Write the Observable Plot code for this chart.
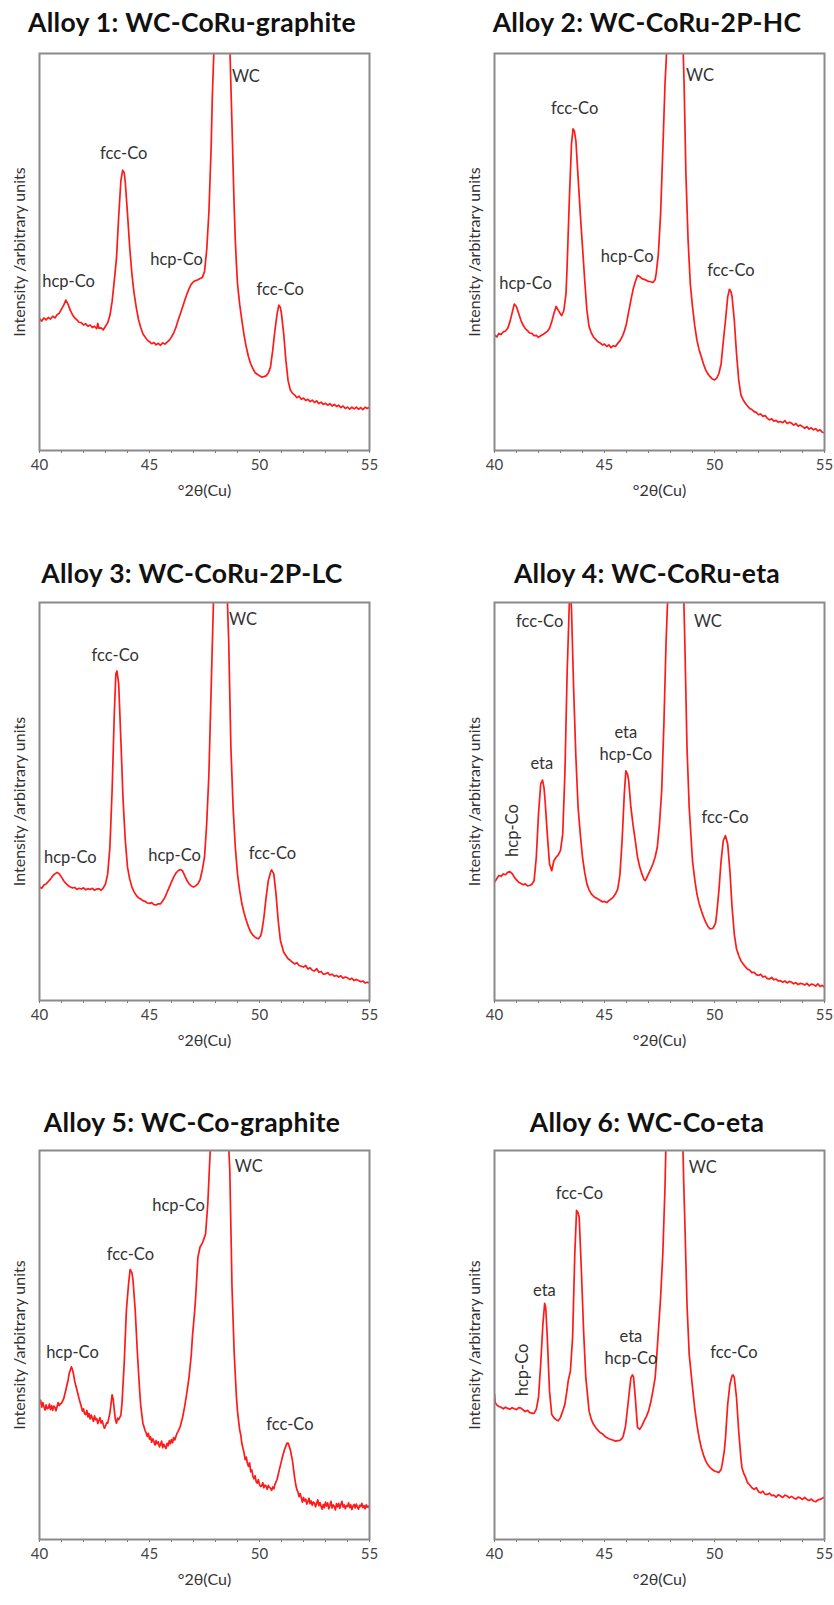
<!DOCTYPE html>
<html>
<head>
<meta charset="utf-8">
<script src="https://cdn.jsdelivr.net/npm/d3@7"></script>
<script src="https://cdn.jsdelivr.net/npm/@observablehq/plot@0.6"></script>
<style>
  body { margin: 0; background: #fff; }
  #page { position: relative; width: 834px; height: 1605px; overflow: hidden; background: #fff; }
  .title { position: absolute; width: 440px; text-align: center; white-space: nowrap;
           font: 700 26.5px Lato, sans-serif; letter-spacing: 0.3px; line-height: 26px; color: #111; }
  .panel { position: absolute; }
</style>
</head>
<body>
<div id="page"></div>
<script>
// XRD patterns (Cu Kα) of six WC-based hardmetals, 2θ = 40–55°, intensity in arbitrary units
const titles = [
  "Alloy 1: WC-CoRu-graphite",
  "Alloy 2: WC-CoRu-2P-HC",
  "Alloy 3: WC-CoRu-2P-LC",
  "Alloy 4: WC-CoRu-eta",
  "Alloy 5: WC-Co-graphite",
  "Alloy 6: WC-Co-eta"
];
const xTitle = "°2θ(Cu)";
const yTitle = "Intensity /arbitrary units";
const xTicks = [40, 41, 42, 43, 44, 45, 46, 47, 48, 49, 50, 51, 52, 53, 54, 55];
const xTickLabels = [40, 45, 50, 55];

// [2θ, intensity]; the WC reflection runs off the top of every pattern
const alloy1 = [[40.0,33.2],[40.1,32.6],[40.2,33.4],[40.3,32.9],[40.4,33.5],[40.5,33.1],[40.6,33.8],[40.7,33.4],[40.8,34.2],[40.9,34.6],[41.0,35.6],[41.1,36.6],[41.2,37.9],[41.3,36.8],[41.4,35.3],[41.5,34.2],[41.6,33.4],[41.7,32.9],[41.8,32.3],[41.9,32.2],[42.0,31.6],[42.1,31.9],[42.2,31.3],[42.3,31.6],[42.4,31.0],[42.5,31.3],[42.6,30.7],[42.65,32.0],[42.7,30.8],[42.8,30.9],[42.9,30.4],[43.0,31.3],[43.1,32.2],[43.2,34.0],[43.3,37.5],[43.4,42.8],[43.5,48.5],[43.6,59.0],[43.7,68.0],[43.78,70.6],[43.85,70.0],[43.9,67.5],[44.0,59.6],[44.1,51.2],[44.2,44.5],[44.3,39.6],[44.4,36.0],[44.5,33.0],[44.6,31.0],[44.7,29.4],[44.8,28.6],[44.9,27.8],[45.0,27.4],[45.1,26.9],[45.2,27.2],[45.3,26.6],[45.4,27.0],[45.5,26.5],[45.6,27.1],[45.7,26.8],[45.8,27.3],[45.9,27.8],[46.0,28.6],[46.1,29.6],[46.2,31.0],[46.3,32.8],[46.4,34.4],[46.5,36.1],[46.6,37.8],[46.7,39.4],[46.8,40.8],[46.9,41.9],[47.0,42.5],[47.1,42.8],[47.2,43.0],[47.3,43.3],[47.4,43.6],[47.5,45.0],[47.6,50.5],[47.7,60.0],[47.8,76.0],[47.86,90.0],[47.93,101],[48.0,130],[48.3,200],[48.6,130],[48.66,100],[48.7,92],[48.75,82],[48.8,71.3],[48.85,61],[48.9,53.0],[48.95,47],[49.0,42.0],[49.1,36.8],[49.2,32.7],[49.3,29.0],[49.4,26.0],[49.5,23.6],[49.6,21.8],[49.7,20.6],[49.8,19.6],[49.9,19.2],[50.0,18.8],[50.1,18.5],[50.2,18.6],[50.3,18.8],[50.4,19.5],[50.5,21.0],[50.6,25.2],[50.7,30.2],[50.8,34.4],[50.88,36.6],[50.95,36.0],[51.0,34.4],[51.1,29.4],[51.2,22.7],[51.3,17.6],[51.4,15.3],[51.5,14.4],[51.6,14.0],[51.7,13.3],[51.8,13.7],[51.9,12.9],[52.0,13.2],[52.1,12.6],[52.2,12.9],[52.3,12.3],[52.4,12.7],[52.5,12.1],[52.6,12.5],[52.7,11.8],[52.8,12.2],[52.9,11.6],[53.0,11.9],[53.1,11.4],[53.2,11.8],[53.3,11.2],[53.4,11.6],[53.5,11.1],[53.6,11.4],[53.7,10.8],[53.8,11.2],[53.9,10.6],[54.0,10.9],[54.1,10.4],[54.2,10.9],[54.3,10.5],[54.4,10.9],[54.5,10.4],[54.6,10.8],[54.7,10.3],[54.8,10.9],[54.9,10.6],[55.0,10.9]];

const alloy2 = [[40.0,29.1],[40.1,28.6],[40.2,29.5],[40.3,29.2],[40.4,29.9],[40.5,30.1],[40.6,30.8],[40.7,32.4],[40.8,34.6],[40.9,36.9],[41.0,36.2],[41.1,34.5],[41.2,32.8],[41.3,31.6],[41.4,30.7],[41.5,30.2],[41.6,29.6],[41.7,29.5],[41.8,28.9],[41.9,29.0],[42.0,28.5],[42.1,28.9],[42.2,29.2],[42.3,29.6],[42.4,30.0],[42.5,30.8],[42.6,32.4],[42.7,34.5],[42.8,36.3],[42.9,35.3],[43.0,34.4],[43.05,34.0],[43.15,35.2],[43.25,39.5],[43.3,46.2],[43.4,63.0],[43.5,77.2],[43.57,81.0],[43.63,80.5],[43.7,78.0],[43.8,68.8],[43.9,59.6],[44.0,51.3],[44.1,42.9],[44.2,35.3],[44.3,31.2],[44.4,29.6],[44.5,28.6],[44.6,28.0],[44.7,27.4],[44.8,27.1],[44.9,26.6],[45.0,26.8],[45.1,26.2],[45.2,26.6],[45.3,25.9],[45.4,26.4],[45.5,26.2],[45.6,27.0],[45.7,27.6],[45.8,28.6],[45.9,30.0],[46.0,32.0],[46.1,35.0],[46.2,37.9],[46.3,40.6],[46.4,42.5],[46.5,44.1],[46.6,43.8],[46.7,43.3],[46.8,43.1],[46.9,42.9],[47.0,42.6],[47.1,42.5],[47.2,42.3],[47.3,43.0],[47.35,44.6],[47.45,49.6],[47.55,59.6],[47.65,75.5],[47.75,92.3],[47.83,101],[47.9,130],[48.2,200],[48.5,130],[48.58,100],[48.62,92],[48.7,69.7],[48.8,52.9],[48.9,42.0],[49.0,36.2],[49.1,31.5],[49.2,27.8],[49.3,25.4],[49.4,23.6],[49.5,21.8],[49.6,20.3],[49.7,19.3],[49.8,18.6],[49.9,18.0],[50.0,17.8],[50.1,18.2],[50.2,19.4],[50.3,21.8],[50.4,27.5],[50.5,32.8],[50.6,38.7],[50.68,40.6],[50.75,40.0],[50.8,38.7],[50.9,32.8],[51.0,24.5],[51.1,17.8],[51.2,14.0],[51.3,12.8],[51.4,11.9],[51.5,11.2],[51.6,10.6],[51.7,10.3],[51.8,9.8],[51.9,9.6],[52.0,9.0],[52.1,9.2],[52.2,8.6],[52.3,8.8],[52.4,8.1],[52.5,7.7],[52.6,8.0],[52.7,7.4],[52.8,7.6],[52.9,7.1],[53.0,7.3],[53.1,7.0],[53.2,7.5],[53.3,6.8],[53.4,7.1],[53.5,6.9],[53.6,6.4],[53.7,6.8],[53.8,6.1],[53.9,6.4],[54.0,6.0],[54.1,5.6],[54.2,6.0],[54.3,5.4],[54.4,5.7],[54.5,5.2],[54.6,5.5],[54.7,4.9],[54.8,5.2],[54.9,4.6],[55.0,4.5]];

const alloy3 = [[40.0,28.5],[40.1,28.2],[40.2,29.0],[40.3,29.3],[40.4,29.9],[40.5,30.5],[40.6,31.3],[40.7,31.8],[40.8,32.2],[40.9,31.8],[41.0,31.0],[41.1,30.1],[41.2,29.4],[41.3,28.9],[41.4,28.5],[41.5,28.3],[41.6,28.4],[41.7,27.9],[41.8,28.2],[41.9,28.0],[42.0,28.3],[42.1,27.8],[42.2,28.1],[42.3,27.9],[42.4,28.2],[42.5,27.7],[42.6,28.0],[42.7,28.1],[42.8,27.7],[42.9,28.3],[43.0,29.3],[43.1,31.8],[43.2,38.5],[43.3,52.7],[43.4,72.0],[43.47,82.0],[43.52,82.8],[43.6,79.5],[43.7,65.3],[43.8,50.2],[43.9,40.2],[44.0,33.5],[44.1,30.5],[44.2,28.5],[44.3,27.3],[44.4,26.4],[44.5,25.8],[44.6,25.5],[44.7,25.1],[44.8,24.9],[44.9,24.5],[45.0,24.4],[45.1,24.6],[45.2,24.1],[45.3,24.0],[45.4,24.3],[45.5,24.3],[45.6,25.0],[45.7,25.9],[45.8,27.2],[45.9,28.5],[46.0,29.8],[46.1,31.0],[46.2,32.0],[46.3,32.6],[46.4,32.9],[46.5,32.6],[46.6,31.4],[46.7,30.2],[46.8,29.3],[46.9,28.8],[47.0,28.5],[47.1,28.8],[47.2,29.3],[47.3,30.4],[47.4,32.8],[47.5,36.0],[47.6,44.4],[47.7,56.9],[47.8,77.8],[47.9,98.7],[47.96,110],[48.1,150],[48.3,200],[48.45,150],[48.52,104],[48.6,90.4],[48.7,63.6],[48.8,48.5],[48.9,38.5],[49.0,31.8],[49.1,27.6],[49.2,24.3],[49.3,22.0],[49.4,20.1],[49.5,18.5],[49.6,17.2],[49.7,16.4],[49.8,15.9],[49.9,15.6],[49.95,15.5],[50.05,16.2],[50.1,17.2],[50.2,20.9],[50.3,25.9],[50.4,30.1],[50.5,32.2],[50.55,32.8],[50.65,31.8],[50.75,26.8],[50.85,20.1],[50.95,15.1],[51.1,12.1],[51.2,11.3],[51.3,10.5],[51.4,10.1],[51.5,9.6],[51.6,9.2],[51.7,9.5],[51.8,8.8],[51.9,8.6],[52.0,8.4],[52.1,8.8],[52.2,7.9],[52.3,8.2],[52.4,7.6],[52.5,7.4],[52.6,8.0],[52.7,7.1],[52.8,7.3],[52.9,6.6],[53.0,6.7],[53.1,7.0],[53.2,6.4],[53.3,6.6],[53.4,6.1],[53.5,6.3],[53.6,5.9],[53.7,6.2],[53.8,5.6],[53.9,5.9],[54.0,5.7],[54.1,5.3],[54.2,5.6],[54.3,5.0],[54.4,5.3],[54.5,5.0],[54.6,4.7],[54.7,4.9],[54.8,4.4],[54.9,4.6],[55.0,4.4]];

const alloy4 = [[40.0,29.7],[40.1,30.6],[40.2,31.4],[40.3,31.2],[40.4,31.8],[40.5,31.6],[40.6,32.2],[40.7,32.4],[40.8,31.9],[40.9,31.0],[41.0,30.3],[41.1,29.7],[41.2,29.4],[41.3,29.1],[41.4,29.3],[41.5,28.8],[41.6,28.9],[41.7,29.2],[41.8,30.1],[41.9,36.0],[42.0,46.9],[42.1,54.4],[42.18,55.4],[42.25,53.5],[42.3,50.2],[42.4,41.8],[42.5,34.3],[42.6,32.6],[42.7,35.1],[42.8,36.0],[42.9,36.6],[43.0,37.7],[43.1,41.8],[43.2,56.9],[43.3,82.0],[43.4,99.6],[43.45,104],[43.5,98.3],[43.6,77.8],[43.7,61.1],[43.8,48.5],[43.9,41.8],[44.0,36.0],[44.1,32.2],[44.2,29.3],[44.3,27.8],[44.4,26.8],[44.5,26.2],[44.6,25.8],[44.7,25.5],[44.8,25.2],[44.9,24.8],[45.0,24.9],[45.1,24.6],[45.2,25.1],[45.3,25.5],[45.4,26.0],[45.5,26.8],[45.6,28.0],[45.7,31.5],[45.8,40.2],[45.9,51.9],[45.97,57.7],[46.05,56.8],[46.1,55.2],[46.2,48.5],[46.3,44.0],[46.4,40.2],[46.5,36.0],[46.6,33.6],[46.7,31.8],[46.8,30.4],[46.85,30.1],[46.9,30.6],[47.0,31.8],[47.1,33.0],[47.2,34.3],[47.3,36.0],[47.4,38.5],[47.5,44.4],[47.6,52.7],[47.7,69.5],[47.8,90.4],[47.88,102],[48.0,140],[48.3,200],[48.55,140],[48.6,102],[48.65,90.4],[48.75,63.6],[48.85,48.5],[49.0,35.1],[49.1,30.5],[49.2,26.8],[49.3,24.4],[49.4,22.6],[49.5,21.0],[49.6,19.7],[49.7,18.6],[49.8,18.0],[49.9,18.1],[49.95,18.3],[50.05,19.5],[50.1,21.8],[50.2,27.6],[50.3,35.1],[50.4,40.2],[50.5,41.4],[50.6,39.3],[50.7,32.6],[50.8,23.4],[50.9,16.7],[51.0,13.0],[51.1,11.3],[51.2,10.0],[51.3,9.2],[51.4,8.5],[51.5,7.9],[51.6,7.6],[51.7,7.0],[51.8,7.1],[51.9,6.5],[52.0,6.3],[52.1,6.6],[52.2,5.9],[52.3,6.1],[52.4,5.5],[52.5,5.4],[52.6,5.8],[52.7,5.2],[52.8,5.4],[52.9,4.9],[53.0,5.0],[53.1,4.6],[53.2,4.9],[53.3,4.4],[53.4,4.8],[53.5,4.6],[53.6,4.2],[53.7,4.5],[53.8,4.0],[53.9,4.3],[54.0,4.2],[54.1,3.9],[54.2,4.3],[54.3,3.7],[54.4,4.1],[54.5,4.0],[54.6,3.6],[54.7,4.2],[54.8,3.5],[54.9,3.8],[55.0,3.3]];

const alloy5 = [[40.0,35.0],[40.05,35.8],[40.1,34.0],[40.15,35.2],[40.2,34.2],[40.25,33.3],[40.3,34.6],[40.35,33.6],[40.4,33.8],[40.45,34.8],[40.5,33.4],[40.55,34.4],[40.6,33.2],[40.65,34.3],[40.7,34.0],[40.75,33.1],[40.8,34.2],[40.85,35.2],[40.9,34.4],[40.95,34.9],[41.0,35.0],[41.1,36.2],[41.2,38.5],[41.3,41.0],[41.35,42.7],[41.45,44.4],[41.5,43.6],[41.55,42.4],[41.6,40.7],[41.7,38.5],[41.8,36.2],[41.9,34.2],[41.95,33.0],[42.0,33.6],[42.05,32.3],[42.1,32.1],[42.15,33.2],[42.2,31.5],[42.25,32.4],[42.3,31.0],[42.35,32.0],[42.4,31.2],[42.45,30.4],[42.5,31.8],[42.55,30.8],[42.6,31.1],[42.65,29.8],[42.7,30.6],[42.75,31.3],[42.8,29.9],[42.85,30.5],[42.9,29.5],[42.95,28.6],[43.0,29.1],[43.05,30.0],[43.1,29.9],[43.2,32.5],[43.3,37.2],[43.35,36.0],[43.4,33.3],[43.45,30.8],[43.5,29.9],[43.55,31.2],[43.6,30.8],[43.7,32.0],[43.75,35.0],[43.85,45.3],[43.95,59.0],[44.05,65.8],[44.12,69.4],[44.2,68.6],[44.25,66.7],[44.35,59.0],[44.45,47.9],[44.55,38.5],[44.6,34.5],[44.7,29.9],[44.8,28.0],[44.85,27.4],[44.9,26.5],[44.95,27.3],[45.0,25.8],[45.05,26.4],[45.1,25.0],[45.15,25.9],[45.2,25.2],[45.25,24.3],[45.3,25.4],[45.35,24.6],[45.4,25.1],[45.45,23.8],[45.5,24.4],[45.55,25.3],[45.6,23.6],[45.65,24.5],[45.7,23.9],[45.75,23.4],[45.8,24.7],[45.85,24.1],[45.9,25.4],[45.95,24.6],[46.0,25.7],[46.05,24.9],[46.1,26.2],[46.15,25.6],[46.2,26.5],[46.25,27.3],[46.3,27.8],[46.4,29.1],[46.5,31.3],[46.6,34.2],[46.7,37.8],[46.8,41.9],[46.9,47.5],[46.95,52.1],[47.05,58.5],[47.1,62.4],[47.2,72.6],[47.3,75.2],[47.4,76.2],[47.45,76.9],[47.55,78.6],[47.65,86.3],[47.72,95],[47.77,101],[47.9,150],[48.2,200],[48.5,150],[48.6,101],[48.65,94.9],[48.75,65.0],[48.85,47.9],[48.95,36.8],[49.0,33.0],[49.05,30.5],[49.1,28.2],[49.15,26.8],[49.2,24.6],[49.25,23.4],[49.3,22.2],[49.35,20.5],[49.4,21.2],[49.45,19.6],[49.5,18.8],[49.55,19.7],[49.6,17.4],[49.65,17.9],[49.7,16.2],[49.75,15.6],[49.8,16.4],[49.85,14.8],[49.9,14.5],[49.95,15.4],[50.0,14.1],[50.05,13.6],[50.1,13.8],[50.15,14.6],[50.2,13.3],[50.25,14.0],[50.3,13.7],[50.35,12.9],[50.4,13.9],[50.45,13.4],[50.5,13.2],[50.55,12.6],[50.6,13.5],[50.65,13.0],[50.7,14.1],[50.8,15.5],[50.9,17.9],[51.0,20.2],[51.05,21.4],[51.15,23.3],[51.25,24.8],[51.3,24.8],[51.35,24.0],[51.4,23.1],[51.5,20.2],[51.55,17.9],[51.6,15.8],[51.65,14.0],[51.7,12.8],[51.75,12.2],[51.8,11.0],[51.85,11.8],[51.9,10.7],[51.95,9.6],[52.0,10.8],[52.05,9.9],[52.1,10.4],[52.15,9.1],[52.2,9.8],[52.25,10.6],[52.3,9.2],[52.35,9.9],[52.4,8.8],[52.45,9.6],[52.5,9.4],[52.55,8.4],[52.6,9.3],[52.65,10.2],[52.7,8.7],[52.75,9.5],[52.8,8.5],[52.85,7.8],[52.9,9.0],[52.95,8.2],[53.0,9.6],[53.05,8.6],[53.1,9.4],[53.15,7.9],[53.2,8.8],[53.25,9.8],[53.3,8.1],[53.35,8.9],[53.4,8.5],[53.45,7.6],[53.5,9.2],[53.55,8.4],[53.6,9.3],[53.65,8.0],[53.7,9.0],[53.75,9.8],[53.8,8.3],[53.85,8.9],[53.9,7.9],[53.95,8.7],[54.0,8.5],[54.05,9.4],[54.1,8.2],[54.15,8.9],[54.2,7.7],[54.25,8.6],[54.3,9.0],[54.35,8.1],[54.4,9.1],[54.45,8.4],[54.5,7.8],[54.55,8.8],[54.6,8.5],[54.65,9.3],[54.7,8.2],[54.75,8.7],[54.8,7.9],[54.85,8.9],[54.9,8.3],[54.95,8.6],[55.0,8.1]];

const alloy6 = [[40.0,37.3],[40.03,35.2],[40.1,34.6],[40.2,34.2],[40.3,34.0],[40.4,33.6],[40.5,34.0],[40.6,33.7],[40.7,33.5],[40.8,33.9],[40.9,33.6],[41.0,33.4],[41.1,33.9],[41.2,33.8],[41.3,33.3],[41.4,32.9],[41.5,33.2],[41.6,32.6],[41.7,32.5],[41.8,32.4],[41.9,33.5],[42.0,36.5],[42.1,45.1],[42.2,55.4],[42.28,60.7],[42.33,59.5],[42.4,51.9],[42.5,38.2],[42.6,32.2],[42.7,31.3],[42.8,30.8],[42.9,30.5],[43.0,31.4],[43.1,33.0],[43.2,34.8],[43.3,38.5],[43.35,40.8],[43.45,43.3],[43.55,51.9],[43.65,73.4],[43.73,84.6],[43.8,84.0],[43.85,82.8],[43.95,69.1],[44.05,53.6],[44.15,41.6],[44.3,33.0],[44.4,30.9],[44.5,29.6],[44.6,28.8],[44.7,28.1],[44.8,27.5],[44.9,27.2],[45.0,26.6],[45.1,26.2],[45.2,25.9],[45.3,25.7],[45.4,25.5],[45.5,25.3],[45.6,25.4],[45.7,25.5],[45.8,26.0],[45.85,26.6],[45.95,29.0],[46.0,31.3],[46.1,36.5],[46.2,41.6],[46.27,42.3],[46.32,41.8],[46.4,36.5],[46.5,28.8],[46.6,28.3],[46.7,29.2],[46.8,30.5],[46.9,31.6],[47.0,33.0],[47.1,35.2],[47.2,38.2],[47.3,41.5],[47.35,45.1],[47.45,53.6],[47.55,62.2],[47.65,73.4],[47.75,90.6],[47.79,101],[47.9,150],[48.2,200],[48.5,150],[48.56,102],[48.6,92],[48.65,82.0],[48.75,60.5],[48.85,47.6],[49.0,39.1],[49.1,33.8],[49.2,29.6],[49.3,26.2],[49.4,23.6],[49.5,21.7],[49.6,20.2],[49.7,19.2],[49.8,18.5],[49.9,18.0],[50.0,17.6],[50.1,17.4],[50.2,17.2],[50.3,18.0],[50.35,19.3],[50.45,23.0],[50.5,26.2],[50.6,34.8],[50.7,39.9],[50.8,42.1],[50.85,42.3],[50.9,41.6],[51.0,36.5],[51.1,27.9],[51.2,21.0],[51.25,18.4],[51.35,16.7],[51.4,16.2],[51.5,14.6],[51.6,14.0],[51.7,13.3],[51.8,12.9],[51.9,13.3],[52.0,12.3],[52.1,12.0],[52.2,12.4],[52.3,11.6],[52.4,11.6],[52.5,11.9],[52.6,11.3],[52.7,11.4],[52.8,10.9],[52.9,11.5],[53.0,11.2],[53.1,10.8],[53.2,11.4],[53.3,11.2],[53.4,10.7],[53.5,11.1],[53.6,10.7],[53.7,10.4],[53.8,10.9],[53.9,10.7],[54.0,10.3],[54.1,10.8],[54.2,10.3],[54.3,10.0],[54.4,10.4],[54.5,9.9],[54.6,9.7],[54.7,10.2],[54.8,10.3],[54.9,10.6],[55.0,10.9]];

// Phase labels: text, position in data units, optional rotation
const labels1 = [
  {text: "hcp-Co", x: 41.32, y: 43.0},
  {text: "fcc-Co", x: 43.83, y: 75.1},
  {text: "hcp-Co", x: 46.23, y: 48.5},
  {text: "WC", x: 49.38, y: 94.6},
  {text: "fcc-Co", x: 50.94, y: 40.9}
];
const labels2 = [
  {text: "hcp-Co", x: 41.41, y: 42.3},
  {text: "fcc-Co", x: 43.64, y: 86.4},
  {text: "hcp-Co", x: 46.03, y: 49.3},
  {text: "WC", x: 49.34, y: 94.8},
  {text: "fcc-Co", x: 50.75, y: 45.8}
];
const labels3 = [
  {text: "hcp-Co", x: 41.4, y: 36.2},
  {text: "fcc-Co", x: 43.44, y: 87.0},
  {text: "hcp-Co", x: 46.14, y: 36.8},
  {text: "WC", x: 49.25, y: 96.0},
  {text: "fcc-Co", x: 50.59, y: 37.2}
];
const labels4 = [
  {text: "hcp-Co", x: 40.76, y: 42.7, rotate: -90},
  {text: "eta", x: 42.15, y: 59.8},
  {text: "fcc-Co", x: 42.05, y: 95.6},
  {text: "eta\nhcp-Co", x: 45.97, y: 64.9},
  {text: "WC", x: 49.7, y: 95.6},
  {text: "fcc-Co", x: 50.48, y: 46.2}
];
const labels5 = [
  {text: "hcp-Co", x: 41.5, y: 48.5},
  {text: "fcc-Co", x: 44.13, y: 73.5},
  {text: "hcp-Co", x: 46.32, y: 86.1},
  {text: "WC", x: 49.51, y: 96.2},
  {text: "fcc-Co", x: 51.38, y: 29.9}
];
const labels6 = [
  {text: "hcp-Co", x: 41.21, y: 43.6, rotate: -90},
  {text: "eta", x: 42.27, y: 64.4},
  {text: "fcc-Co", x: 43.86, y: 89.3},
  {text: "eta\nhcp-Co", x: 46.2, y: 49.7},
  {text: "WC", x: 49.47, y: 96.1},
  {text: "fcc-Co", x: 50.88, y: 48.5}
];

const series = [alloy1, alloy2, alloy3, alloy4, alloy5, alloy6];
const labelSets = [labels1, labels2, labels3, labels4, labels5, labels6];

// Page layout: two columns, three rows
const colLeft = [0, 455];          // svg left edge per column
const titleCenter = [192, 647];    // title centre per column
const rowTop = [49, 598, 1146];    // svg top edge per row
const rowFrame = [397, 398, 389];  // plot-area height per row
const rowTitleTop = [9, 560, 1109];

const M = {left: 39, right: 14, top: 4, bottom: 50};
const page = document.getElementById("page");

series.forEach((data, i) => {
  const col = i % 2, row = Math.floor(i / 2);

  const t = document.createElement("div");
  t.className = "title";
  t.textContent = titles[i];
  t.style.left = (titleCenter[col] - 220) + "px";
  t.style.top = rowTitleTop[row] + "px";
  page.appendChild(t);

  const chart = Plot.plot({
    width: 330 + M.left + M.right,
    height: rowFrame[row] + M.top + M.bottom,
    marginLeft: M.left, marginRight: M.right, marginTop: M.top, marginBottom: M.bottom,
    style: {fontFamily: "Lato, sans-serif", fontSize: "15px", color: "#444", background: "transparent"},
    x: {domain: [40, 55]},
    y: {domain: [0, 100], axis: null},
    marks: [
      Plot.line(data, {x: d => d[0], y: d => d[1], stroke: "#ff1a1a", strokeWidth: 1.7, clip: true}),
      Plot.text(labelSets[i], {x: "x", y: "y", text: "text", rotate: d => d.rotate || 0,
        fontSize: 16.5, fill: "#333", lineHeight: 1.3}),
      Plot.axisX({ticks: xTicks, tickSize: 3, tickPadding: 6, stroke: "#777",
        tickFormat: d => xTickLabels.includes(d) ? String(d) : "", label: null}),
      Plot.frame({stroke: "#8a8a8a", strokeWidth: 2}),
      Plot.text([xTitle], {frameAnchor: "bottom", lineAnchor: "middle", dy: 40, fontSize: 16, fill: "#333"}),
      Plot.text([yTitle], {frameAnchor: "left", textAnchor: "middle", lineAnchor: "middle",
        rotate: -90, dx: -20, fontSize: 16, fill: "#333"})
    ]
  });
  chart.classList.add("panel");
  chart.style.left = colLeft[col] + "px";
  chart.style.top = rowTop[row] + "px";
  page.appendChild(chart);
});
</script>
</body>
</html>
